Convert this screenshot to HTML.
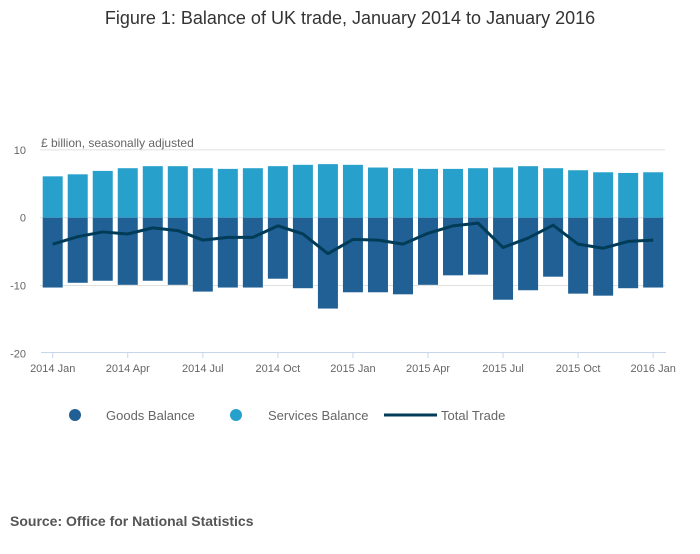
<!DOCTYPE html>
<html><head><meta charset="utf-8"><style>
body{margin:0;background:#fff;font-family:"Liberation Sans",sans-serif;}
#wrap{position:relative;width:700px;height:549px;}
</style></head><body>
<div id="wrap">
<svg id="chart" width="700" height="549">
<text x="350" y="24" text-anchor="middle" font-size="18" fill="#333">Figure 1: Balance of UK trade, January 2014 to January 2016</text>
<text x="41" y="147" font-size="12" fill="#666">£ billion, seasonally adjusted</text>
<g id="grid"></g><g id="bars"></g><g id="line"></g><g id="xaxis"></g>
<g>
<circle cx="75" cy="415" r="6" fill="#206095"/>
<text x="106" y="420" font-size="13" fill="#666">Goods Balance</text>
<circle cx="236" cy="415" r="6" fill="#27a0cc"/>
<text x="268" y="420" font-size="13" fill="#666">Services Balance</text>
<line x1="384" y1="415" x2="437" y2="415" stroke="#003c57" stroke-width="3"/>
<text x="441" y="420" font-size="13" fill="#666">Total Trade</text>
</g>
<text x="10" y="526" font-size="14" font-weight="bold" fill="#555">Source: Office for National Statistics</text>
</svg>
</div>
<script>
const months = ["2014 Jan","Feb","Mar","2014 Apr","May","Jun","2014 Jul","Aug","Sep","2014 Oct","Nov","Dec","2015 Jan","Feb","Mar","2015 Apr","May","Jun","2015 Jul","Aug","Sep","2015 Oct","Nov","Dec","2016 Jan"];
const services = [6.1,6.4,6.9,7.3,7.6,7.6,7.3,7.2,7.3,7.6,7.8,7.9,7.8,7.4,7.3,7.2,7.2,7.3,7.4,7.6,7.3,7.0,6.7,6.6,6.7];
const goods = [-10.3,-9.6,-9.3,-9.9,-9.3,-9.9,-10.9,-10.3,-10.3,-9.0,-10.4,-13.4,-11.0,-11.0,-11.3,-9.9,-8.5,-8.4,-12.1,-10.7,-8.7,-11.2,-11.5,-10.4,-10.3];
const total = [-3.9,-2.8,-2.1,-2.4,-1.5,-1.9,-3.3,-2.9,-2.9,-1.2,-2.4,-5.3,-3.2,-3.3,-3.9,-2.3,-1.2,-0.8,-4.4,-3.0,-1.1,-3.9,-4.5,-3.5,-3.3];
const yTicks = [10,0,-10,-20];
const tickIdx = [0,3,6,9,12,15,18,21,24];

const NS="http://www.w3.org/2000/svg";
const y = v => 217.7 - v*6.78;
const x = i => 52.7 + i*25.02;
function mk(tag, attrs, parent){const e=document.createElementNS(NS,tag);for(const k in attrs)e.setAttribute(k,attrs[k]);parent.appendChild(e);return e;}
const grid=document.getElementById('grid'), bars=document.getElementById('bars'), lineG=document.getElementById('line'), xa=document.getElementById('xaxis');
yTicks.forEach(t=>{
  if(t>-20){const l=mk('line',{x1:40,x2:665,y1:y(t),y2:y(t),stroke:'#e0e0e0','stroke-width':1},grid);
  
  }
  const tx=mk('text',{x:26,y:y(t)+4,'text-anchor':'end','font-size':11,fill:'#666'},grid);
  tx.textContent=t;
  
  
});
services.forEach((v,i)=>{
  const r=mk('rect',{x:x(i)-10,y:y(v),width:20,height:y(0)-y(v),fill:'#27a0cc'},bars);
  
  
});
goods.forEach((v,i)=>{
  const r=mk('rect',{x:x(i)-10,y:y(0),width:20,height:y(v)-y(0),fill:'#206095'},bars);
  
  
});
const p=mk('polyline',{points:total.map((v,i)=>x(i)+','+y(v)).join(' '),fill:'none',stroke:'#003c57','stroke-width':3,'stroke-linejoin':'round'},lineG);


const ax=mk('line',{x1:41,x2:666,y1:352.5,y2:352.5,stroke:'#c6d6ea','stroke-width':1},xa);


tickIdx.forEach(i=>{
  const t=mk('line',{x1:x(i),x2:x(i),y1:352.5,y2:358,stroke:'#c6d6ea'},xa);
  
  
  const tx=mk('text',{x:x(i),y:372,'text-anchor':'middle','font-size':11,fill:'#666'},xa);
  tx.textContent=months[i];
  
  
});
</script>
</body></html>
